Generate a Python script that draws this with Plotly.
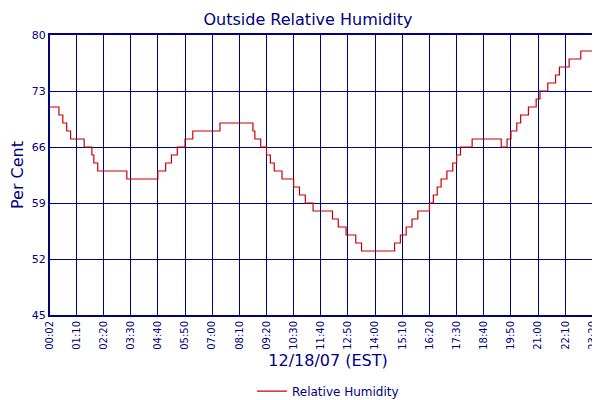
import plotly.graph_objects as go

# readings: time of change (HH:MM) and relative humidity (%)
times = ["00:02", "00:25", "00:35", "00:45", "00:55", "01:30", "01:50", "01:55", "02:05",
         "03:20", "04:40", "05:00", "05:15", "05:30", "05:50", "06:10", "07:20", "08:45",
         "08:50", "09:05", "09:20", "09:30", "09:40", "10:00", "10:30", "10:45", "11:00",
         "11:20", "12:10", "12:25", "12:45", "13:10", "13:25", "14:50", "15:05", "15:20",
         "15:35", "15:50", "16:20", "16:30", "16:40", "16:50", "17:05", "17:20", "17:30",
         "17:40", "18:10", "19:25", "19:40", "19:50", "20:05", "20:15", "20:35", "20:55",
         "21:05", "21:25", "21:45", "21:55", "22:20", "22:50", "23:40", "23:50"]
humidity = [71, 70, 69, 68, 67, 66, 65, 64, 63,
            62, 63, 64, 65, 66, 67, 68, 69, 68,
            67, 66, 65, 64, 63, 62, 61, 60, 59,
            58, 57, 56, 55, 54, 53, 54, 55, 56,
            57, 58, 59, 60, 61, 62, 63, 64, 65,
            66, 67, 66, 67, 68, 69, 70, 71, 72,
            73, 74, 75, 76, 77, 78, 79, 79]
tick_labels = ["00:02", "01:10", "02:20", "03:30", "04:40", "05:50", "07:00", "08:10",
               "09:20", "10:30", "11:40", "12:50", "14:00", "15:10", "16:20", "17:30",
               "18:40", "19:50", "21:00", "22:10", "23:20", "23:50"]
y_ticks = [45, 52, 59, 66, 73, 80]


def to_min(s):
    h, m = s.split(":")
    return int(h) * 60 + int(m)


x = [to_min(t) for t in times]
tickvals = [to_min(t) for t in tick_labels]
navy = "#000080"

fig = go.Figure()
fig.add_trace(go.Scatter(x=x, y=humidity, mode="lines", line_shape="hv",
                         line=dict(color="#cc0000", width=1.2),
                         name="Relative Humidity"))

fig.update_layout(
    width=600, height=400,
    margin=dict(l=42, r=2, t=27, b=82),
    paper_bgcolor="white", plot_bgcolor="white",
    font=dict(family="DejaVu Sans", color=navy, size=11),
    title=dict(text="Outside Relative Humidity", x=0.5, y=0.985, yanchor="top",
               font=dict(size=16, color=navy)),
    showlegend=True,
    legend=dict(orientation="h", x=0.5, xanchor="center", y=-0.22, yanchor="top",
                font=dict(size=12, color=navy)),
    xaxis=dict(range=[2, 1435], tickvals=tickvals, ticktext=tick_labels, tickangle=-90,
               showgrid=True, gridcolor=navy, gridwidth=1, showline=True,
               linecolor=navy, linewidth=2, mirror=True, zeroline=False, ticks="",
               automargin=False, tickfont=dict(size=10, color=navy),
               title=dict(text="12/18/07 (EST)", font=dict(size=16, color=navy), standoff=6)),
    yaxis=dict(range=[45, 80], tickvals=y_ticks, showgrid=True, gridcolor=navy,
               gridwidth=1, showline=True, linecolor=navy, linewidth=2, mirror=True,
               zeroline=False, ticks="", automargin=False, tickfont=dict(size=11, color=navy),
               title=dict(text="Per Cent", font=dict(size=16, color=navy), standoff=6)),
)

fig.write_html("out.html")
